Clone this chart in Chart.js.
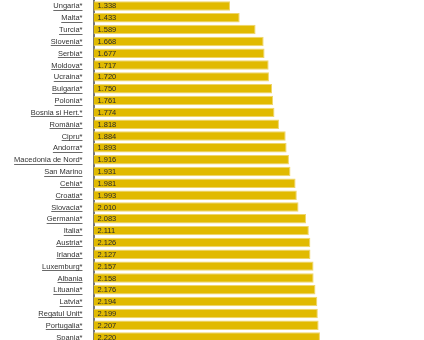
<!DOCTYPE html>
<html>
<head>
<meta charset="utf-8">
<script src="https://cdn.jsdelivr.net/npm/chart.js@4.4.1/dist/chart.umd.min.js"></script>
<style>
html,body{margin:0;padding:0;background:#fff;overflow:hidden;}
canvas{display:block;}
</style>
</head>
<body>
<canvas id="c" width="424" height="343"></canvas>
<script>
const countries = ["Ungaria*","Malta*","Turcia*","Slovenia*","Serbia*","Moldova*","Ucraina*","Bulgaria*","Polonia*","Bosnia și Herț.*","România*","Cipru*","Andorra*","Macedonia de Nord*","San Marino","Cehia*","Croația*","Slovacia*","Germania*","Italia*","Austria*","Irlanda*","Luxemburg*","Albania","Lituania*","Latvia*","Regatul Unit*","Portugalia*","Spania*"];
const values = [1338,1433,1589,1668,1677,1717,1720,1750,1761,1774,1818,1884,1893,1916,1931,1981,1993,2010,2083,2111,2126,2127,2157,2158,2176,2194,2199,2207,2220];
const axisMax = 3240;

function fmt(v){ return String(v).replace(/\B(?=(\d{3})+(?!\d))/g, "."); }

const FONT = "Liberation Sans, Arial, sans-serif";

const labelPlugin = {
  id: 'labelPlugin',
  afterDatasetsDraw(chart){
    const ctx = chart.ctx;
    const meta = chart.getDatasetMeta(0);
    const ys = chart.scales.y;
    ctx.save();
    ctx.font = "7.5px " + FONT;
    ctx.textBaseline = "middle";
    // values inside bars
    ctx.fillStyle = "#2a2a2a";
    ctx.textAlign = "left";
    meta.data.forEach((bar, i) => {
      ctx.fillText(fmt(values[i]), bar.base + 4, bar.y + 0.5);
    });
    // category labels, underlined
    ctx.fillStyle = "#333";
    ctx.strokeStyle = "#444";
    ctx.lineWidth = 0.8;
    ctx.textAlign = "right";
    const xr = ys.right - 11;
    countries.forEach((label, i) => {
      const y = ys.getPixelForValue(i);
      ctx.fillText(label, xr, y + 0.5);
      const w = ctx.measureText(label).width;
      const uy = Math.round(y + 4) + 0.5;
      ctx.beginPath();
      ctx.moveTo(xr - w, uy);
      ctx.lineTo(xr, uy);
      ctx.stroke();
    });
    ctx.restore();
  }
};

new Chart(document.getElementById('c'), {
  type: 'bar',
  data: {
    labels: countries,
    datasets: [{
      data: values,
      backgroundColor: '#E1BA00',
      borderColor: '#EFD56A',
      borderWidth: 1,
      borderSkipped: 'start',
      barPercentage: 0.8,
      categoryPercentage: 1.0
    }]
  },
  options: {
    indexAxis: 'y',
    responsive: false,
    animation: false,
    layout: { padding: 0 },
    plugins: { legend: { display: false }, tooltip: { enabled: false } },
    scales: {
      x: {
        display: false,
        min: 0,
        max: axisMax
      },
      y: {
        afterFit(scale){ scale.width = 93.5; },
        grid: { display: false, drawTicks: false },
        border: { display: true, color: '#777', width: 2 },
        ticks: { display: false }
      }
    }
  },
  plugins: [labelPlugin]
});
</script>
</body>
</html>
